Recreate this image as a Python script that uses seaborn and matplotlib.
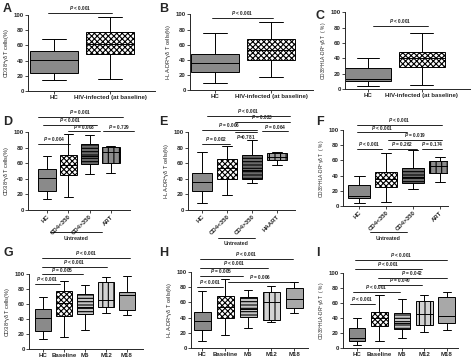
import matplotlib
matplotlib.use("Agg")
import matplotlib.pyplot as plt
import seaborn as sns
import pandas as pd

# ============================================================
# DATA: five-number summaries (min, Q1, median, Q3, max)
# ============================================================
hc_cd38 = [14, 24, 41, 53, 69]
hc_hla = [9, 24, 36, 48, 75]
hc_dbl = [4, 10, 13, 27, 40]

base_cd38 = [16, 49, 62, 77, 97]
base_hla = [18, 40, 53, 68, 90]
base_dbl = [5, 29, 40, 48, 73]

d_low = [17, 45, 58, 70, 97]
d_high = [46, 59, 69, 84, 96]
d_art = [48, 60, 75, 81, 82]

e_low = [19, 40, 54, 66, 82]
e_high = [34, 40, 51, 71, 90]
e_haart = [58, 64, 68, 73, 74]

f_low = [5, 25, 36, 45, 70]
f_high = [22, 30, 38, 50, 74]
f_art = [32, 44, 52, 59, 64]

g_base = [16, 44, 61, 77, 91]
g_m6 = [25, 47, 56, 73, 86]
g_m12 = [48, 56, 66, 90, 97]
g_m18 = [46, 52, 72, 76, 98]

h_base = [18, 40, 54, 68, 90]
h_m6 = [27, 41, 51, 67, 76]
h_m12 = [34, 37, 61, 73, 81]
h_m18 = [46, 53, 64, 79, 87]

i_base = [9, 30, 40, 48, 70]
i_m6 = [13, 25, 34, 47, 65]
i_m12 = [22, 31, 45, 62, 71]
i_m18 = [24, 33, 43, 68, 74]

cats_two = ["HC", "HIV-infected (at baseline)"]
cats_df = ["HC", "CD4<350", "CD4>350", "ART"]
cats_e = ["HC", "CD4<350", "CD4>350", "HAART"]
cats_time = ["HC", "Baseline", "M6", "M12", "M18"]

# significance bars: (start, end in category units, height, text, text below)
br_a = [(-0.1, 1.04, 103, "P < 0.001", False)]
br_b = [(-0.06, 1.03, 95, "P < 0.001", False)]
br_c = [(0.09, 1.12, 82, "P < 0.001", False)]
br_d = [(-0.42, 3.57, 119, "P = 0.001", False),
        (-0.19, 2.35, 109, "P < 0.001", False),
        (0.99, 2.49, 101, "P = 0.008", False),
        (2.63, 4.1, 101, "P = 0.729", False),
        (-0.42, 1.08, 85, "P = 0.004", False)]
br_e = [(0.2, 3.52, 121, "P < 0.001", False),
        (1.32, 3.52, 113, "P = 0.023", False),
        (0.0, 2.2, 103, "P = 0.006", False),
        (1.32, 2.2, 100, "P=0.781", True),
        (2.4, 3.44, 101, "P = 0.064", False),
        (0.0, 1.12, 85, "P = 0.002", False)]
br_f = [(-0.08, 3.08, 107, "P < 0.001", False),
        (-0.08, 1.78, 97, "P < 0.001", False),
        (1.07, 3.08, 87, "P = 0.019", False),
        (1.07, 2.15, 75, "P = 0.262", False),
        (2.34, 3.08, 75, "P = 0.174", False),
        (-0.08, 0.85, 75, "P < 0.001", False)]
br_g = [(-0.05, 4.14, 122, "P < 0.001", False),
        (-0.05, 3.04, 110, "P < 0.001", False),
        (-0.05, 1.9, 100, "P = 0.005", False),
        (-0.38, 0.81, 87, "P < 0.001", False)]
br_h = [(-0.09, 3.95, 117, "P < 0.001", False),
        (-0.09, 2.87, 105, "P < 0.001", False),
        (-0.09, 1.78, 95, "P = 0.005", False),
        (1.13, 3.95, 87, "P = 0.006", False),
        (-0.22, 0.91, 80, "P < 0.001", False)]
br_i = [(-0.09, 4.0, 117, "P < 0.001", False),
        (-0.09, 2.89, 105, "P < 0.001", False),
        (0.94, 4.0, 93, "P = 0.042", False),
        (0.94, 2.89, 84, "P = 0.040", False),
        (-0.18, 1.91, 75, "P < 0.001", False),
        (-0.31, 0.8, 59, "P < 0.001", False)]

lab_cd38 = r"CD38$^{+}$γδ T cells(%)"
lab_hla = r"HLA-DR$^{+}$γδ T cells(%)"
lab_dbl = r"CD38$^{+}$HLA-DR$^{+}$γδ T  ( % )"

GRAY = "#8a8a8a"
CHECK = "white"

# ============================================================
# STYLE
# ============================================================
sns.set_style("ticks")
plt.rcParams["font.family"] = ["Liberation Sans", "DejaVu Sans"]
plt.rcParams["font.weight"] = "bold"
plt.rcParams["mathtext.fontset"] = "custom"
plt.rcParams["mathtext.it"] = "Liberation Sans:italic:bold"
plt.rcParams["mathtext.rm"] = "Liberation Sans:bold"
plt.rcParams["hatch.linewidth"] = 0.8

W, H = 474, 360
fig = plt.figure(figsize=(W / 100, H / 100), dpi=100)


def draw_panel(px, cats, vals, fills, hatches, ylabel, brackets, letter, lpos,
               xlim, box_w, ylab_size=4, rotate=False, untreated=None):
    x0, x1, ytop, ybot = px
    ax = fig.add_axes([x0 / W, 1 - ybot / H, (x1 - x0) / W, (ybot - ytop) / H])

    df = pd.DataFrame({
        "group": [c for c, v in zip(cats, vals) for _ in v],
        "value": [x for v in vals for x in v],
    })
    sns.boxplot(data=df, x="group", y="value", hue="group", palette=fills,
                whis=(0, 100), width=box_w, linecolor="black", linewidth=0.7,
                legend=False, ax=ax)
    for patch, h in zip(ax.patches, hatches):
        if h:
            patch.set_hatch(h)

    ax.set_ylim(0, 100)
    ax.set_xlim(*xlim)
    ax.set_yticks([0, 20, 40, 60, 80, 100])
    ax.set_xlabel("")
    ax.set_ylabel(ylabel, fontsize=ylab_size, labelpad=1.5)
    sns.despine(ax=ax)
    for s in ["left", "bottom"]:
        ax.spines[s].set_linewidth(0.7)
    ax.tick_params(length=2, width=0.6, labelsize=4.4, pad=1)
    if rotate:
        ax.set_xticks(range(len(cats)))
        ax.set_xticklabels(cats, rotation=45, ha="right",
                           rotation_mode="anchor")

    for a, b, y, txt, below in brackets:
        ax.plot([a, b], [y, y], color="black", lw=0.6, clip_on=False)
        t = txt.replace("P", "$P$")
        if below:
            ax.text((a + b) / 2, y - 1.0, t, ha="center", va="top",
                    fontsize=3.4, clip_on=False)
        else:
            ax.text((a + b) / 2, y + 0.9, t, ha="center", va="bottom",
                    fontsize=3.4, clip_on=False)

    if untreated is not None:
        ua, ub, yl, yt = untreated
        tr = ax.get_xaxis_transform()
        ax.plot([ua, ub], [yl, yl], color="black", lw=0.6,
                transform=tr, clip_on=False)
        ax.text((ua + ub) / 2, yt, "Untreated", ha="center", va="top",
                fontsize=3.8, transform=tr)

    fig.text(lpos[0] / W, 1 - lpos[1] / H, letter, fontsize=9,
             fontweight="bold", ha="left", va="center")
    return ax


draw_panel((28, 155, 15, 91), cats_two, [hc_cd38, base_cd38],
           [GRAY, CHECK], [None, "xxxxxx"], lab_cd38, br_a, "A", (3, 9),
           (-0.46, 1.8), 0.85)
draw_panel((190, 313, 14.3, 90.3), cats_two, [hc_hla, base_hla],
           [GRAY, CHECK], [None, "xxxxxx"], lab_hla, br_b, "B", (159, 9),
           (-0.45, 1.75), 0.85)
draw_panel((345, 470, 12.3, 89), cats_two, [hc_dbl, base_dbl],
           [GRAY, CHECK], [None, "xxxxxx"], lab_dbl, br_c, "C", (316, 16),
           (-0.43, 1.9), 0.85, ylab_size=3.5)

draw_panel((28, 130, 132, 210), cats_df, [hc_cd38, d_low, d_high, d_art],
           [GRAY, CHECK, "#6a6a6a", "#8c8c8c"], [None, "xxxxxx", "-----", "|||"],
           lab_cd38, br_d, "D", (3, 122), (-0.89, 3.9), 0.82, rotate=True,
           untreated=(0.14, 2.58, -0.28, -0.33))
draw_panel((188, 295, 132, 210), cats_e, [hc_hla, e_low, e_high, e_haart],
           [GRAY, CHECK, "#6a6a6a", "#a0a0a0"], [None, "xxxxxx", "-----", "|||"],
           lab_hla, br_e, "E", (159, 122), (-0.56, 3.72), 0.8, rotate=True,
           untreated=(0.64, 2.12, -0.355, -0.40))
draw_panel((343, 448, 130, 206), cats_df, [hc_dbl, f_low, f_high, f_art],
           [GRAY, CHECK, "#6a6a6a", "#8c8c8c"], [None, "xxxxxx", "-----", "|||"],
           lab_dbl, br_f, "F", (316, 122), (-0.6, 3.3), 0.8, ylab_size=3.5,
           rotate=True, untreated=(0.4, 1.78, -0.34, -0.39))

time_fills = [GRAY, CHECK, "#c4c4c4", "#d2d2d2", "#a8a8a8"]
time_hatch = [None, "xxxxxx", "-----", "|||", None]
draw_panel((29, 143, 274.3, 349), cats_time, [hc_cd38, g_base, g_m6, g_m12, g_m18],
           time_fills, time_hatch, lab_cd38, br_g, "G", (3, 253),
           (-0.67, 4.76), 0.74)
draw_panel((191, 308, 271.7, 348.3), cats_time, [hc_hla, h_base, h_m6, h_m12, h_m18],
           time_fills, time_hatch, lab_hla, br_h, "H", (159, 253),
           (-0.48, 4.6), 0.74)
draw_panel((343, 458, 272.7, 348.3), cats_time, [hc_dbl, i_base, i_m6, i_m12, i_m18],
           time_fills, time_hatch, lab_dbl, br_i, "I", (316, 253),
           (-0.62, 4.5), 0.74, ylab_size=3.5)

fig.savefig("out.png", dpi=100)
plt.close(fig)
